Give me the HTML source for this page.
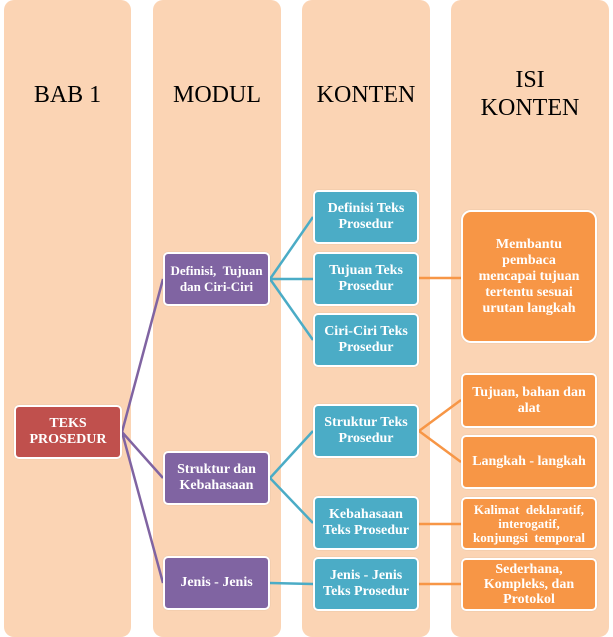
<!DOCTYPE html>
<html><head><style>
body{margin:0;width:613px;height:637px;background:#fff;position:relative;overflow:hidden;font-family:"Liberation Serif",serif}
.col{position:absolute;top:0;height:637px;background:#fbd4b4;border-radius:10px}
.h{position:absolute;text-align:center;font-size:24px;color:#000;line-height:28px}
.n{position:absolute;box-sizing:border-box;border:2px solid #fff;border-radius:5px;color:#fff;font-weight:bold;font-size:14px;line-height:16px;display:flex;align-items:center;justify-content:center;text-align:center;box-shadow:0 0 1px rgba(0,0,0,.2);white-space:nowrap}
.r{background:#c0504d}.p{background:#8064a2}.b{background:#4bacc6}.o{background:#f79646}
svg{position:absolute;left:0;top:0}
</style></head><body>
<div class="col" style="left:4px;width:127px"></div>
<div class="col" style="left:153px;width:128px"></div>
<div class="col" style="left:302px;width:128px"></div>
<div class="col" style="left:451px;width:158px"></div>
<div class="h" style="left:4px;width:127px;top:81px">BAB 1</div>
<div class="h" style="left:153px;width:128px;top:81px">MODUL</div>
<div class="h" style="left:302px;width:128px;top:81px">KONTEN</div>
<div class="h" style="left:451px;width:158px;top:66px">ISI<br>KONTEN</div>
<svg width="613" height="637">
<g stroke="#8064a2" stroke-width="2.5" fill="none">
<path d="M122 432L163 279M122 432L163 478M122 432L163 583"/></g>
<g stroke="#4bacc6" stroke-width="2.5" fill="none">
<path d="M270 279L313 217M270 279L313 279M270 279L313 340M270 478L313 431M270 478L313 523M270 583L313 584"/></g>
<g stroke="#f79646" stroke-width="2.5" fill="none">
<path d="M419 278L461 278M419 431L461 400M419 431L461 462M419 524L461 524M419 584L461 584"/></g>
</svg>
<div class="n r" style="left:14px;top:405px;width:108px;height:54px">TEKS<br>PROSEDUR</div>
<div class="n p" style="left:163px;top:252px;width:107px;height:54px;font-size:13px">Definisi,&nbsp; Tujuan<br>dan Ciri-Ciri</div>
<div class="n p" style="left:163px;top:451px;width:107px;height:54px">Struktur dan<br>Kebahasaan</div>
<div class="n p" style="left:163px;top:556px;width:107px;height:54px">Jenis - Jenis</div>
<div class="n b" style="left:313px;top:190px;width:106px;height:54px">Definisi Teks<br>Prosedur</div>
<div class="n b" style="left:313px;top:252px;width:106px;height:54px">Tujuan Teks<br>Prosedur</div>
<div class="n b" style="left:313px;top:313px;width:106px;height:54px">Ciri-Ciri Teks<br>Prosedur</div>
<div class="n b" style="left:313px;top:404px;width:106px;height:54px">Struktur Teks<br>Prosedur</div>
<div class="n b" style="left:313px;top:496px;width:106px;height:54px">Kebahasaan<br>Teks Prosedur</div>
<div class="n b" style="left:313px;top:557px;width:106px;height:54px">Jenis - Jenis<br>Teks Prosedur</div>
<div class="n o" style="left:461px;top:210px;width:136px;height:133px;border-radius:10px">Membantu<br>pembaca<br>mencapai tujuan<br>tertentu sesuai<br>urutan langkah</div>
<div class="n o" style="left:461px;top:373px;width:136px;height:55px">Tujuan, bahan dan<br>alat</div>
<div class="n o" style="left:461px;top:435px;width:136px;height:54px">Langkah - langkah</div>
<div class="n o" style="left:461px;top:497px;width:136px;height:53px;font-size:13px;line-height:14px">Kalimat&nbsp; deklaratif,<br>interogatif,<br>konjungsi&nbsp; temporal</div>
<div class="n o" style="left:461px;top:558px;width:136px;height:53px;line-height:15px">Sederhana,<br>Kompleks, dan<br>Protokol</div>
</body></html>
